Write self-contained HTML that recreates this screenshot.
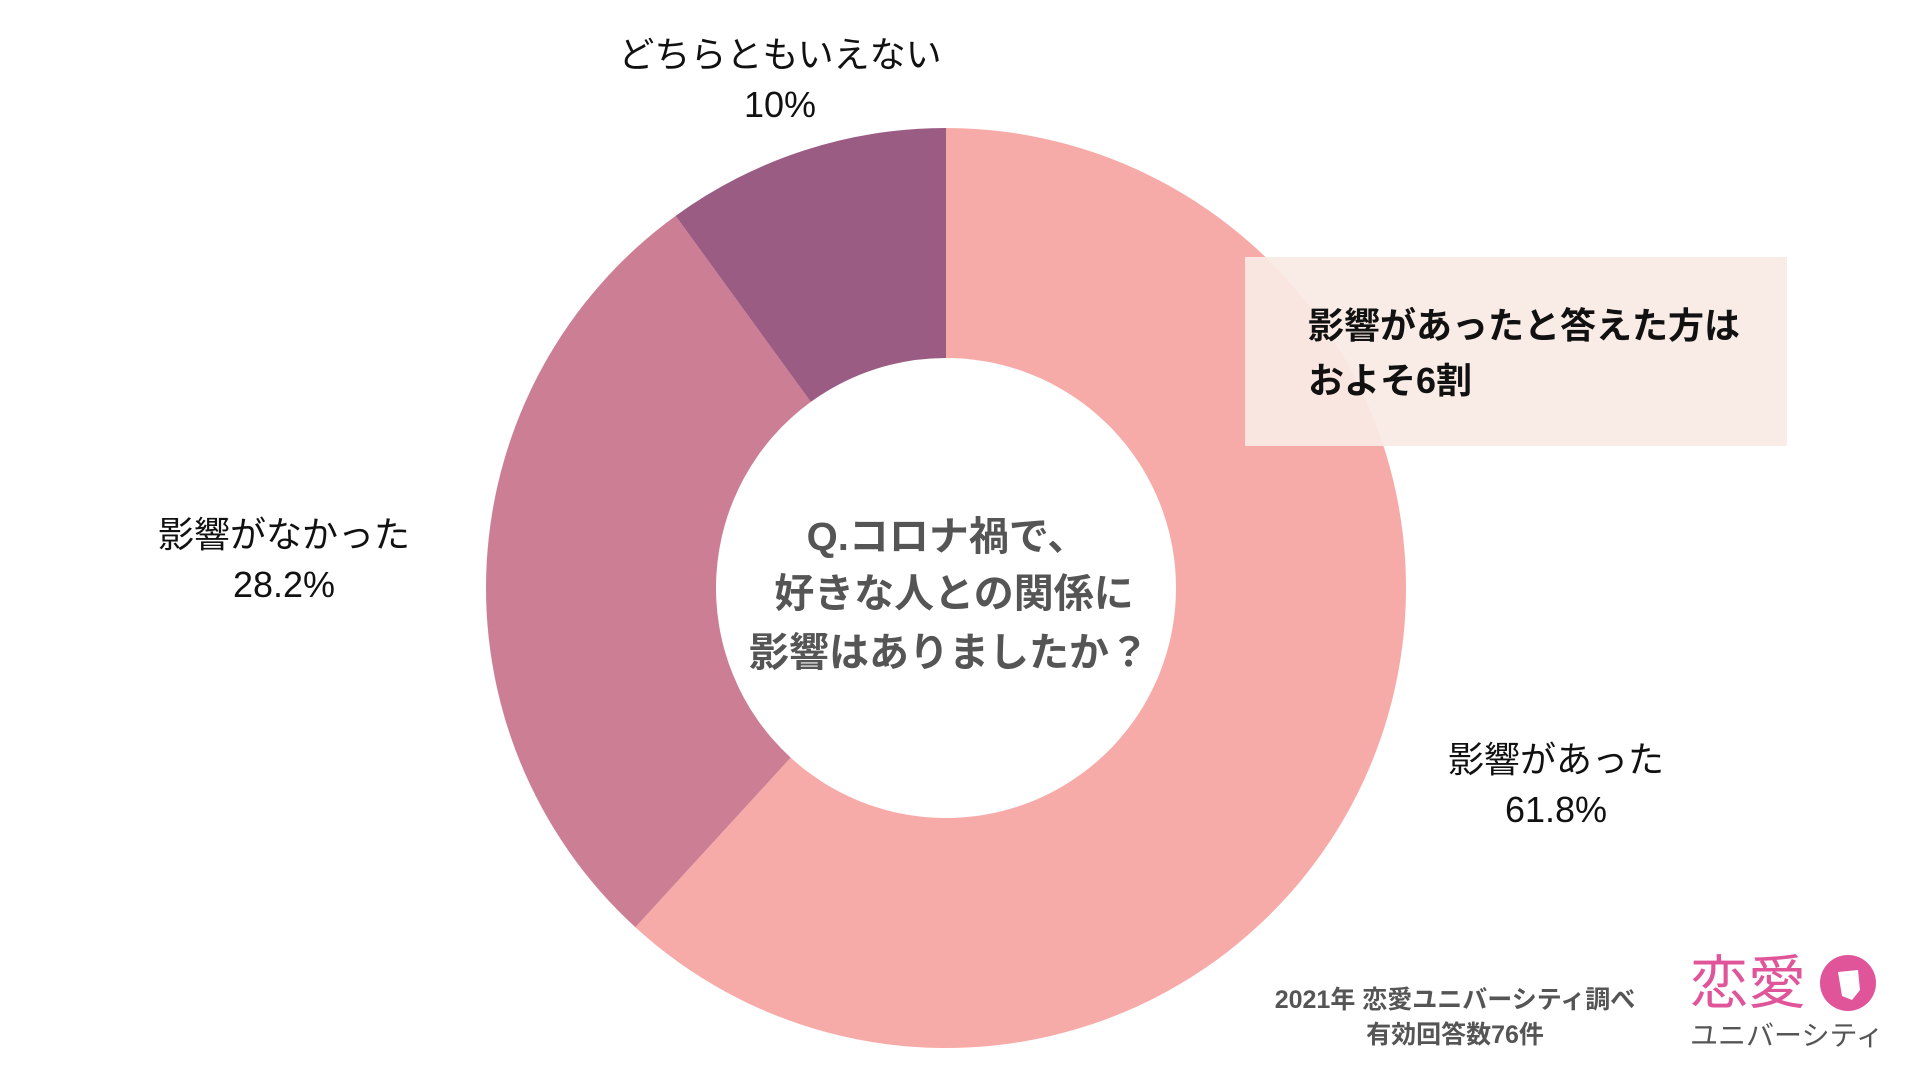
<!DOCTYPE html>
<html><head><meta charset="utf-8"><style>
html,body{margin:0;padding:0;background:#fff;width:1920px;height:1080px;overflow:hidden}
svg text{font-family:"Liberation Sans","Noto Sans CJK JP",sans-serif}
</style></head><body>
<svg id="chart" width="1920" height="1080">
<g id="slices"></g>
<rect x="1245" y="257" width="542" height="189" fill="#f9ebe4" opacity="0.93"/>
<text x="1308" y="338" font-size="36" font-weight="bold" fill="#111">影響があったと答えた方は</text>
<text x="1308" y="393" font-size="36" font-weight="bold" fill="#111">およそ6割</text>
<g font-size="40" font-weight="bold" fill="#555" text-anchor="middle">
<text x="947" y="550">Q.コロナ禍で、</text>
<text x="954" y="607">好きな人との関係に</text>
<text x="949" y="666">影響はありましたか？</text>
</g>
<g id="labels" font-size="36" fill="#111" text-anchor="middle"></g>
<g font-size="25" font-weight="bold" fill="#555" text-anchor="middle">
<text x="1455" y="1008">2021年 恋愛ユニバーシティ調べ</text>
<text x="1455" y="1043">有効回答数76件</text>
</g>
<g>
<text x="1690" y="1003" font-size="58" fill="#e0559a">恋愛</text>
<circle cx="1848" cy="983" r="28" fill="#e0559a"/>
<path d="M1838,972 L1858,970 L1860,990 L1852,1000 L1842,996 Z" fill="#fff"/>
<text x="1690" y="1045" font-size="28" fill="#555">ユニバーシティ</text>
</g>
</svg>
<script>
const categories=["影響があった","影響がなかった","どちらともいえない"];
const values=[61.8,28.2,10];
const valueLabels=["61.8%","28.2%","10%"];
const colors=["#f7aba8","#cc7f94","#9b5c83"];
const labelPos=[[1556,760],[284,535],[780,55]];
const cx=946,cy=588,R=460,r=230;
const ns="http://www.w3.org/2000/svg";
const total=values.reduce((a,b)=>a+b,0);
function pt(a,rad){return [cx+rad*Math.sin(a),cy-rad*Math.cos(a)];}
let a0=0;
const g=document.getElementById('slices'),lg=document.getElementById('labels');
values.forEach((v,i)=>{
 const a1=a0+v/total*2*Math.PI;
 const [x0,y0]=pt(a0,R),[x1,y1]=pt(a1,R),[x2,y2]=pt(a1,r),[x3,y3]=pt(a0,r);
 const lf=(a1-a0)>Math.PI?1:0;
 const p=document.createElementNS(ns,'path');
 p.setAttribute('d',`M${x0},${y0}A${R},${R} 0 ${lf} 1 ${x1},${y1}L${x2},${y2}A${r},${r} 0 ${lf} 0 ${x3},${y3}Z`);
 p.setAttribute('fill',colors[i]);
 
 
 g.appendChild(p);
 const t1=document.createElementNS(ns,'text');
 t1.setAttribute('x',labelPos[i][0]);t1.setAttribute('y',labelPos[i][1]+12);
 t1.textContent=categories[i];
 
 
 lg.appendChild(t1);
 const t2=document.createElementNS(ns,'text');
 t2.setAttribute('x',labelPos[i][0]);t2.setAttribute('y',labelPos[i][1]+62);
 t2.textContent=valueLabels[i];
 
 
 lg.appendChild(t2);
 a0=a1;
});
</script>
</body></html>
